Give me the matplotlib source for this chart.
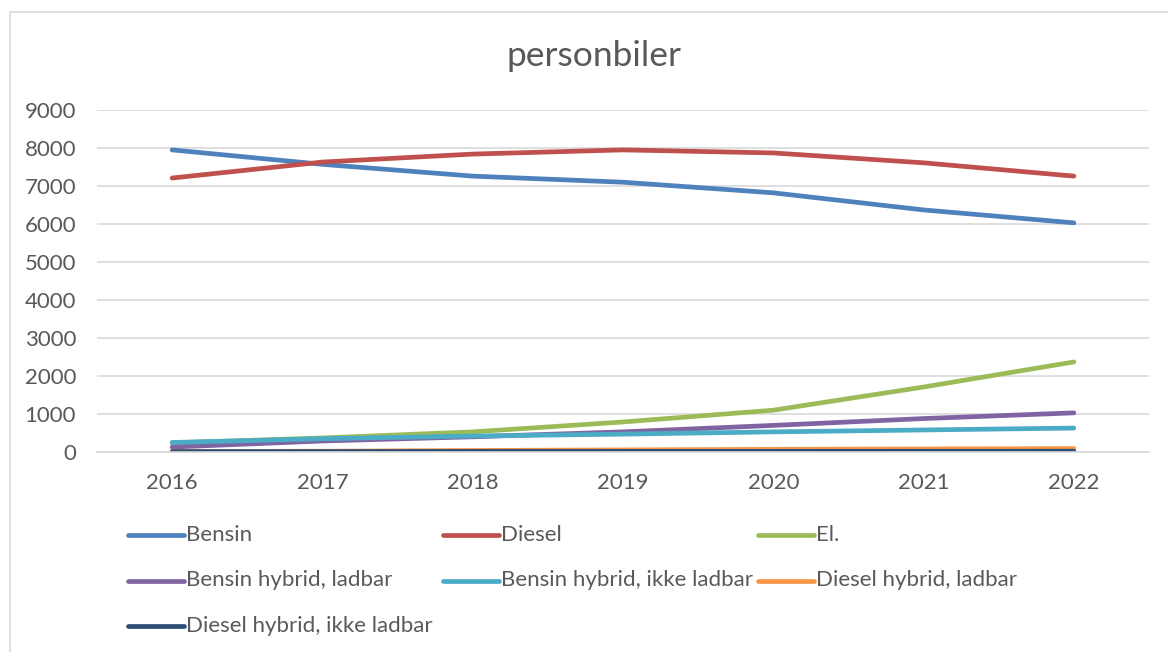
import matplotlib
matplotlib.use("Agg")
import matplotlib.pyplot as plt
from matplotlib.lines import Line2D
from matplotlib.patches import Rectangle

years = ["2016", "2017", "2018", "2019", "2020", "2021", "2022"]
bensin = [7950, 7570, 7260, 7100, 6820, 6370, 6030]
diesel = [7210, 7630, 7840, 7950, 7870, 7610, 7260]
el = [240, 370, 530, 790, 1100, 1710, 2370]
bensin_hybrid_ladbar = [130, 290, 400, 530, 700, 880, 1030]
bensin_hybrid_ikke = [250, 350, 420, 470, 530, 580, 630]
diesel_hybrid_ladbar = [10, 20, 40, 55, 70, 80, 90]
diesel_hybrid_ikke = [10, 12, 14, 15, 17, 18, 20]

names = ["Bensin", "Diesel", "El.", "Bensin hybrid, ladbar",
         "Bensin hybrid, ikke ladbar", "Diesel hybrid, ladbar",
         "Diesel hybrid, ikke ladbar"]
series = [bensin, diesel, el, bensin_hybrid_ladbar, bensin_hybrid_ikke,
          diesel_hybrid_ladbar, diesel_hybrid_ikke]
colors = ["#4F81BD", "#C0504D", "#9BBB59", "#8064A2", "#4BACC6",
          "#F79646", "#2C4D75"]

FONT = "Lato"
TXT = "#595959"
FS = 16
W, H = 1168, 652
fig = plt.figure(figsize=(W / 100, H / 100), dpi=100)
fig.patch.set_facecolor("white")

# outer border
fig.add_artist(Rectangle((10 / W, -0.05), (1250 - 10) / W, 1.05 - 12 / H,
                         transform=fig.transFigure, fill=False,
                         edgecolor="#d9d9d9", lw=1.2))

left, right, top, bottom = 97, 1149, 110, 452
ax = fig.add_axes([left / W, 1 - bottom / H, (right - left) / W, (bottom - top) / H])
x = list(range(len(years)))
for s, c in zip(series, colors):
    ax.plot(x, s, color=c, lw=3.4, solid_capstyle="round", solid_joinstyle="round")

ax.set_xlim(-0.5, len(years) - 0.5)
ax.set_ylim(0, 9000)
ax.set_yticks(range(0, 9001, 1000))
ax.set_xticks(x)
ax.set_xticklabels(years)
ax.grid(axis="y", color="#d9d9d9", lw=1.2)
ax.set_axisbelow(True)
for sp in ["top", "right", "left"]:
    ax.spines[sp].set_visible(False)
ax.spines["bottom"].set_color("#d9d9d9")
ax.spines["bottom"].set_linewidth(1.2)
ax.tick_params(axis="both", length=0, labelsize=FS, labelcolor=TXT)
ax.tick_params(axis="y", pad=15)
ax.tick_params(axis="x", pad=15)
for lab in ax.get_xticklabels() + ax.get_yticklabels():
    lab.set_fontfamily(FONT)

fig.text(594 / W, 1 - 56 / H, "personbiler", ha="center", va="center",
         fontsize=25.5, color=TXT, family=FONT)

# legend (Excel-style fixed columns)
for i, (n, c) in enumerate(zip(names, colors)):
    r, col = divmod(i, 3)
    x0 = 128 + col * 315
    y0 = 535 + r * 45.5
    fig.add_artist(Line2D([x0 / W, (x0 + 56) / W], [1 - y0 / H, 1 - y0 / H],
                          transform=fig.transFigure, color=c, lw=3.4,
                          solid_capstyle="round"))
    fig.text((x0 + 58) / W, 1 - y0 / H, n, ha="left", va="center",
             fontsize=FS, color=TXT, family=FONT)

fig.savefig("out.png", dpi=100, facecolor="white")
